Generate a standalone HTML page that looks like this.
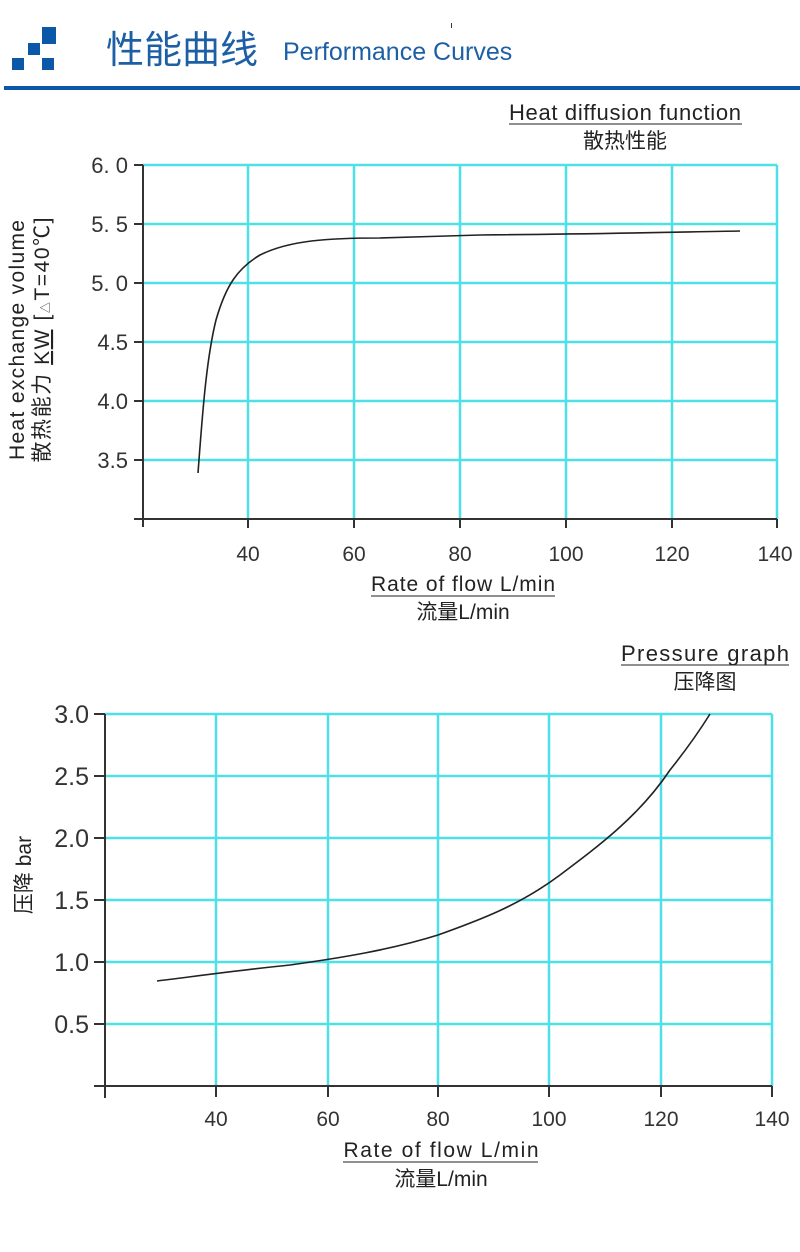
<!DOCTYPE html>
<html><head><meta charset="utf-8"><style>
body{margin:0;background:#fff;}
svg{display:block;}
</style></head><body>
<svg width="800" height="1252" xmlns="http://www.w3.org/2000/svg" font-family="Liberation Sans, Noto Sans CJK SC, sans-serif">
<!-- header -->
<rect x="42" y="27" width="14" height="17" fill="#0b57a8"/>
<rect x="28" y="43" width="12" height="12" fill="#0b57a8"/>
<rect x="12" y="58" width="12" height="12" fill="#0b57a8"/>
<rect x="42" y="58" width="12" height="12" fill="#0b57a8"/>
<text x="106" y="63" font-size="38" fill="#1d5fa5" font-family="Noto Sans CJK SC, sans-serif">性能曲线</text>
<text x="283" y="60" font-size="25" fill="#1d5fa5">Performance Curves</text>
<rect x="4" y="86" width="796" height="4" fill="#0b57a8"/>
<rect x="451" y="23" width="1" height="5" fill="#333"/>

<!-- chart 1 -->
<text x="625" y="120" font-size="22" fill="#222" text-anchor="middle" textLength="232">Heat diffusion function</text>
<line x1="509" y1="124" x2="742" y2="124" stroke="#222" stroke-width="1"/>
<text x="625" y="148" font-size="21" fill="#222" text-anchor="middle" font-family="Noto Sans CJK SC, sans-serif">散热性能</text>
<g stroke="#4ee0e6" stroke-width="2.5">
<line x1="143" y1="165" x2="777" y2="165"/><line x1="143" y1="224" x2="777" y2="224"/>
<line x1="143" y1="283" x2="777" y2="283"/><line x1="143" y1="342" x2="777" y2="342"/>
<line x1="143" y1="401" x2="777" y2="401"/><line x1="143" y1="460" x2="777" y2="460"/>
<line x1="248" y1="165" x2="248" y2="519"/><line x1="354" y1="165" x2="354" y2="519"/>
<line x1="460" y1="165" x2="460" y2="519"/><line x1="566" y1="165" x2="566" y2="519"/>
<line x1="672" y1="165" x2="672" y2="519"/><line x1="777" y1="165" x2="777" y2="519"/>
</g>
<g stroke="#333" stroke-width="2">
<line x1="143" y1="165" x2="143" y2="527"/><line x1="134" y1="519" x2="777" y2="519"/>
<line x1="134" y1="165" x2="143" y2="165"/><line x1="134" y1="224" x2="143" y2="224"/>
<line x1="134" y1="283" x2="143" y2="283"/><line x1="134" y1="342" x2="143" y2="342"/>
<line x1="134" y1="401" x2="143" y2="401"/><line x1="134" y1="460" x2="143" y2="460"/>
<line x1="248" y1="519" x2="248" y2="528"/><line x1="354" y1="519" x2="354" y2="528"/>
<line x1="460" y1="519" x2="460" y2="528"/><line x1="566" y1="519" x2="566" y2="528"/>
<line x1="672" y1="519" x2="672" y2="528"/><line x1="777" y1="519" x2="777" y2="528"/>
</g>
<g font-size="22" fill="#333" text-anchor="end">
<text x="128" y="173">6. 0</text><text x="128" y="232">5. 5</text><text x="128" y="291">5. 0</text>
<text x="128" y="350">4.5</text><text x="128" y="409">4.0</text><text x="128" y="468">3.5</text>
</g>
<g font-size="21" fill="#333" text-anchor="middle">
<text x="248" y="561">40</text><text x="354" y="561">60</text><text x="460" y="561">80</text>
<text x="566" y="561">100</text><text x="672" y="561">120</text><text x="775" y="561">140</text>
</g>
<path d="M198,473 C202,420 206,360 216,320 C226,285 238,268 260,255 C290,240 330,238 380,238 C420,237 440,236 480,235 C600,234 680,232 740,231" fill="none" stroke="#222" stroke-width="1.6"/>
<text x="463" y="591" font-size="21" fill="#222" text-anchor="middle" textLength="184">Rate of flow L/min</text>
<line x1="371" y1="596" x2="555" y2="596" stroke="#222"/>
<text x="463" y="619" font-size="21" fill="#222" text-anchor="middle">流量L/min</text>
<g transform="translate(24,340) rotate(-90)" font-size="21" fill="#222" text-anchor="middle">
<text x="0" y="0" textLength="240">Heat exchange volume</text>
<text x="0" y="25" textLength="245">散热能力 <tspan text-decoration="underline">KW</tspan> [<tspan font-size="11">△</tspan>T=40℃]</text>
</g>

<!-- chart 2 -->
<text x="705" y="661" font-size="22" fill="#222" text-anchor="middle" textLength="168">Pressure graph</text>
<line x1="621" y1="665" x2="789" y2="665" stroke="#222"/>
<text x="705" y="689" font-size="21" fill="#222" text-anchor="middle">压降图</text>
<g stroke="#4ee0e6" stroke-width="2.5">
<line x1="105" y1="714" x2="772" y2="714"/><line x1="105" y1="776" x2="772" y2="776"/>
<line x1="105" y1="838" x2="772" y2="838"/><line x1="105" y1="900" x2="772" y2="900"/>
<line x1="105" y1="962" x2="772" y2="962"/><line x1="105" y1="1024" x2="772" y2="1024"/>
<line x1="216" y1="714" x2="216" y2="1086"/><line x1="328" y1="714" x2="328" y2="1086"/>
<line x1="438" y1="714" x2="438" y2="1086"/><line x1="549" y1="714" x2="549" y2="1086"/>
<line x1="661" y1="714" x2="661" y2="1086"/><line x1="772" y1="714" x2="772" y2="1086"/>
</g>
<g stroke="#333" stroke-width="2">
<line x1="105" y1="714" x2="105" y2="1098"/><line x1="94" y1="1086" x2="772" y2="1086"/>
<line x1="94" y1="714" x2="105" y2="714"/><line x1="94" y1="776" x2="105" y2="776"/>
<line x1="94" y1="838" x2="105" y2="838"/><line x1="94" y1="900" x2="105" y2="900"/>
<line x1="94" y1="962" x2="105" y2="962"/><line x1="94" y1="1024" x2="105" y2="1024"/>
<line x1="216" y1="1086" x2="216" y2="1097"/><line x1="328" y1="1086" x2="328" y2="1097"/>
<line x1="438" y1="1086" x2="438" y2="1097"/><line x1="549" y1="1086" x2="549" y2="1097"/>
<line x1="661" y1="1086" x2="661" y2="1097"/><line x1="772" y1="1086" x2="772" y2="1097"/>
</g>
<g font-size="25" fill="#333" text-anchor="end">
<text x="89" y="723">3.0</text><text x="89" y="785">2.5</text><text x="89" y="847">2.0</text>
<text x="89" y="909">1.5</text><text x="89" y="971">1.0</text><text x="89" y="1033">0.5</text>
</g>
<g font-size="21" fill="#333" text-anchor="middle">
<text x="216" y="1126">40</text><text x="328" y="1126">60</text><text x="438" y="1126">80</text>
<text x="549" y="1126">100</text><text x="661" y="1126">120</text><text x="772" y="1126">140</text>
</g>
<path d="M157,981 C190,977 240,970 290,965 C340,958 390,950 438,935 C480,920 520,905 560,875 C600,845 640,815 670,770 C690,745 700,730 710,714" fill="none" stroke="#222" stroke-width="1.6"/>
<text x="441" y="1157" font-size="21" fill="#222" text-anchor="middle" textLength="195">Rate of flow L/min</text>
<line x1="343" y1="1162" x2="538" y2="1162" stroke="#222"/>
<text x="441" y="1186" font-size="21" fill="#222" text-anchor="middle">流量L/min</text>
<text transform="translate(31,875) rotate(-90)" font-size="21" fill="#222" text-anchor="middle">压降 bar</text>
</svg>
</body></html>
